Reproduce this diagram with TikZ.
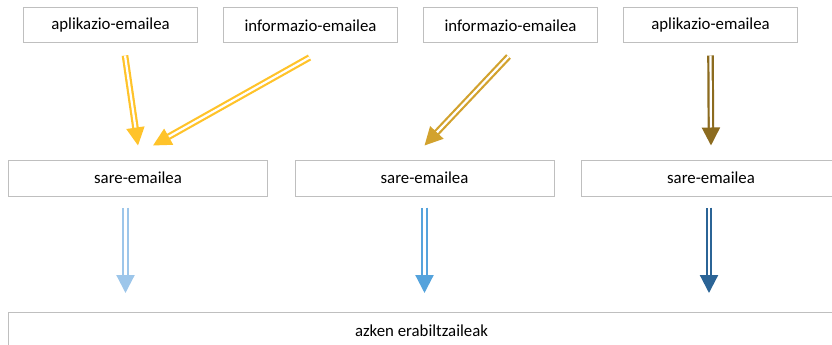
\documentclass[tikz,border=0pt]{standalone}
\usepackage{fontspec}
\setmainfont{Carlito}
\usetikzlibrary{arrows.meta}
\definecolor{boxgray}{HTML}{BFBFBF}
\definecolor{goldA}{HTML}{FFC32A}
\definecolor{goldB}{HTML}{D2A22E}
\definecolor{goldC}{HTML}{8C6B1F}
\definecolor{blueA}{HTML}{9DC6EA}
\definecolor{blueB}{HTML}{55A3DC}
\definecolor{blueC}{HTML}{2B6496}
\tikzstyle{box} = [rectangle, draw=boxgray, line width=1pt, inner sep=0pt,
    minimum height=35pt, text centered, font=\fontsize{16.8}{20}\selectfont]
\tikzstyle{srcbox} = [box, minimum width=174pt]
\tikzstyle{netbox} = [box, minimum width=259pt, minimum height=36pt]
\tikzstyle{arrow} = [double=white, line width=2.2pt, double distance=2.2pt,
    -{Triangle[length=18pt, width=18pt]}]

\begin{document}
\begin{tikzpicture}[x=1pt, y=-1pt]
            \useasboundingbox (0,0) rectangle (832,345);
            \clip (0,0) rectangle (832,345);
            % Senders
            \node[srcbox] (appA) at (110.5,25.5) {aplikazio-emailea};
            \node[srcbox, right of=appA, node distance=200pt] (infoA) {informazio-emailea};
            \node[srcbox, right of=infoA, node distance=200pt] (infoB) {informazio-emailea};
            \node[srcbox, right of=infoB, node distance=200pt] (appB) {aplikazio-emailea};
            % Network
            \node[netbox] (sareA) at (138,178) {sare-emailea};
            \node[netbox, right of=sareA, node distance=286.5pt] (sareB) {sare-emailea};
            \node[netbox, right of=sareB, node distance=286.5pt] (sareC) {sare-emailea};
            % Users
            \node[box, minimum width=827pt, minimum height=36pt] (users) at (421.5,330.5) {azken erabiltzaileak};
            % Arrows
            \draw[arrow, draw=goldA] ([xshift=14.5pt, yshift=-12pt]appA.south) -- ([yshift=14pt]sareA.north);
            \draw[arrow, draw=goldA] ([xshift=-1pt, yshift=-14pt]infoA.south) -- ([xshift=15pt, yshift=14pt]sareA.north);
            \draw[arrow, draw=goldB] ([xshift=-2pt, yshift=-13pt]infoB.south) -- ([yshift=14pt]sareB.north);
            \draw[arrow, draw=goldC] ([yshift=-12pt]appB.south) -- ([yshift=14pt]sareC.north);
            \coordinate (outA) at ([xshift=-12.5pt, yshift=-11pt]sareA.south);
            \coordinate (outB) at ([yshift=-11pt]sareB.south);
            \coordinate (outC) at ([xshift=-2pt, yshift=-11pt]sareC.south);
            \draw[arrow, draw=blueA, shorten >=19pt] (outA) -- (outA |- users.north);
            \draw[arrow, draw=blueB, shorten >=19pt] (outB) -- (outB |- users.north);
            \draw[arrow, draw=blueC, shorten >=19pt] (outC) -- (outC |- users.north);
        \end{tikzpicture}
\end{document}
